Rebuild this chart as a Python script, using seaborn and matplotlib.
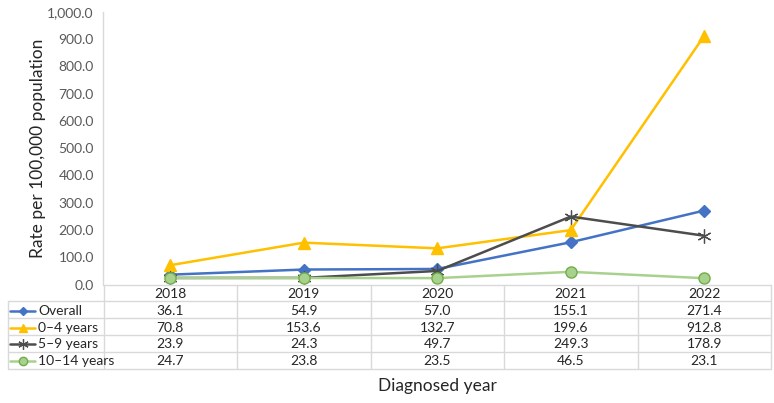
import matplotlib
matplotlib.use("Agg")
import matplotlib.pyplot as plt
import seaborn as sns
import pandas as pd
from matplotlib.lines import Line2D

years = ["2018", "2019", "2020", "2021", "2022"]
series_names = ["Overall", "0\u20134 years", "5\u20139 years", "10\u201314 years"]
overall = [36.1, 54.9, 57.0, 155.1, 271.4]
age_0_4 = [70.8, 153.6, 132.7, 199.6, 912.8]
age_5_9 = [23.9, 24.3, 49.7, 249.3, 178.9]
age_10_14 = [24.7, 23.8, 23.5, 46.5, 23.1]
values = [overall, age_0_4, age_5_9, age_10_14]
yticks = [0, 100, 200, 300, 400, 500, 600, 700, 800, 900, 1000]

colors = ["#4472C4", "#FFC000", "#4D4D4D", "#A9D18E"]
markers = ["D", "^", (6, 2, 0), "o"]
msizes = [6, 8, 10, 8]
mews = [1.0, 1.0, 0.9, 1.0]

sns.set_theme(style="white")
plt.rcParams["font.family"] = ["Lato", "DejaVu Sans"]

rows = []
for name, vals in zip(series_names, values):
    for i, v in enumerate(vals):
        rows.append({"idx": i, "value": v, "series": name})
df = pd.DataFrame(rows)

W, H = 774, 403
fig = plt.figure(figsize=(W / 100, H / 100), dpi=100)

def fx(px):
    return px / W

def fy(py):
    return 1 - py / H

left, right, top, bottom = 103.5, 771, 12, 284.5
ax = fig.add_axes([fx(left), fy(bottom), fx(right) - fx(left), fy(top) - fy(bottom)])

for name, c, m, ms, mw in zip(series_names, colors, markers, msizes, mews):
    sub = df[df["series"] == name]
    mec = "#70AD47" if name == "10\u201314 years" else c
    sns.lineplot(data=sub, x="idx", y="value", ax=ax, color=c, marker=m,
                 markersize=ms, markeredgecolor=mec, linewidth=1.8,
                 markeredgewidth=mw, legend=False)

ax.set_xlim(-0.5, 4.5)
ax.set_ylim(0, 1000)
ax.set_yticks(yticks)
ax.set_yticklabels([f"{v:,.1f}" for v in yticks], fontsize=10, color="#595959")
ax.set_xticks([])
ax.set_xlabel("")
ax.set_ylabel("Rate per 100,000 population", fontsize=12.5, color="#262626", labelpad=1)
ax.tick_params(axis="y", length=0, pad=7)
for s in ["top", "right", "bottom"]:
    ax.spines[s].set_visible(False)
ax.spines["left"].set_color("#D9D9D9")
ax.spines["left"].set_linewidth(1.0)

# data table
t_left, t_top, t_bottom = 8, 284.5, 369
lab_w = (left - t_left) / ((right - left) / 5)
tax = fig.add_axes([fx(t_left), fy(t_bottom), fx(right) - fx(t_left), fy(t_top) - fy(t_bottom)])
tax.set_xlim(-0.5 - lab_w, 4.5)
tax.set_ylim(5, 0)
tax.axis("off")
gc = "#D9D9D9"
tax.plot([-0.5, 4.5], [0, 0], color=gc, lw=1, clip_on=False)
for r in range(1, 6):
    tax.plot([-0.5 - lab_w, 4.5], [r, r], color=gc, lw=1, clip_on=False)
tax.plot([-0.5 - lab_w, -0.5 - lab_w], [1, 5], color=gc, lw=1, clip_on=False)
for i in range(6):
    tax.plot([i - 0.5, i - 0.5], [0, 5], color=gc, lw=1, clip_on=False)

for i, yv in enumerate(years):
    tax.text(i, 0.55, yv, ha="center", va="center", fontsize=10, color="#262626")
unit = lab_w / (left - t_left)
for r, (name, vals, c, m, ms, mw) in enumerate(zip(series_names, values, colors, markers, msizes, mews)):
    yy = r + 1.55
    x0 = -0.5 - lab_w
    mec = "#70AD47" if r == 3 else c
    tax.add_line(Line2D([x0 + 2 * unit, x0 + 27 * unit], [yy, yy], color=c, lw=1.8))
    tax.add_line(Line2D([x0 + 14.5 * unit], [yy], marker=m, markersize=ms * 0.75,
                        color=c, markeredgecolor=mec, markeredgewidth=mw, lw=0))
    tax.text(x0 + 30.5 * unit, yy, name, ha="left", va="center", fontsize=10, color="#262626")
    for i, v in enumerate(vals):
        tax.text(i, yy, f"{v:.1f}", ha="center", va="center", fontsize=10, color="#262626")

fig.text(fx((left + right) / 2), fy(386), "Diagnosed year", ha="center", va="center",
         fontsize=12.5, color="#262626")

fig.savefig("out.png", dpi=100)
